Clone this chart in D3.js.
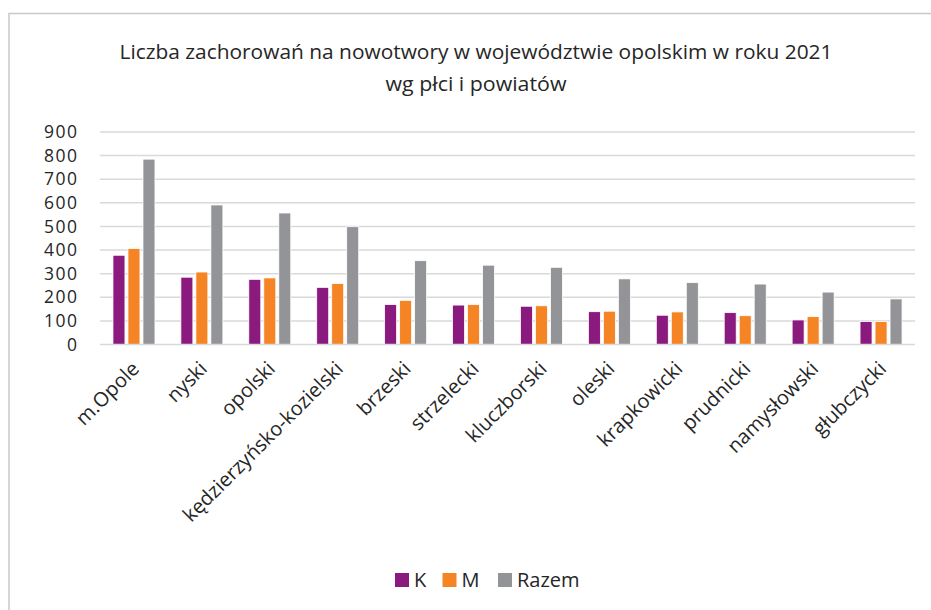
<!DOCTYPE html>
<html>
<head>
    <meta charset="utf-8">
    <title>Zachorowania na nowotwory - opolskie 2021</title>
    <style>
        body {
            margin: 0;
            background-color: white;
        }
        svg text {
            fill: #262626;
        }
    </style>
    <script src="https://d3js.org/d3.v7.min.js"></script>
</head>
<body>
    <script>
        // Data
        var powiaty = ["m.Opole", "nyski", "opolski", "kędzierzyńsko-kozielski", "brzeski", "strzelecki",
                       "kluczborski", "oleski", "krapkowicki", "prudnicki", "namysłowski", "głubczycki"];
        var kobiety = [378, 285, 276, 242, 169, 167, 162, 139, 124, 135, 104, 97];
        var mezczyzni = [407, 307, 282, 258, 187, 169, 164, 141, 138, 122, 118, 97];
        var razem = [785, 591, 557, 499, 355, 336, 327, 278, 262, 256, 222, 193];
        var serie = ["K", "M", "Razem"];
        var yTicks = [0, 100, 200, 300, 400, 500, 600, 700, 800, 900];

        var kolory = { "K": "#8b1a7e", "M": "#f58425", "Razem": "#939497" };

        var width = 931, height = 610;
        var margin = { left: 100, right: 16, top: 132, bottom: 265 };
        var font = "'Open Sans', sans-serif";

        var svg = d3.select("body").append("svg")
            .attr("width", width)
            .attr("height", height);

        // chart border
        svg.append("rect")
            .attr("x", 9)
            .attr("y", 13.5)
            .attr("width", 940)
            .attr("height", 620)
            .attr("fill", "white")
            .attr("stroke", "#c9c9c9")
            .attr("stroke-width", 1.5);

        // Title (narrow font in the original, so squeeze to its width)
        var title = svg.append("text")
            .attr("text-anchor", "middle")
            .style("font-family", font)
            .style("font-size", "19.5px");
        title.append("tspan").attr("x", 476).attr("y", 59)
            .attr("textLength", 713).attr("lengthAdjust", "spacingAndGlyphs")
            .text("Liczba zachorowań na nowotwory w województwie opolskim w roku 2021");
        title.append("tspan").attr("x", 476).attr("y", 91)
            .attr("textLength", 181).attr("lengthAdjust", "spacingAndGlyphs")
            .text("wg płci i powiatów");

        // Scales
        var x0 = d3.scaleBand()
            .domain(powiaty)
            .range([margin.left, width - margin.right]);

        var x1 = d3.scaleBand()
            .domain(serie)
            .range([0, 45])
            .paddingInner(0.2)
            .paddingOuter(0.1);

        var y = d3.scaleLinear()
            .domain([0, 900])
            .range([344.5, 132]);

        // Gridlines
        svg.append("g")
            .selectAll("line")
            .data(yTicks.filter(function(d) { return d > 0; }))
            .join("line")
            .attr("x1", margin.left)
            .attr("x2", width - margin.right)
            .attr("y1", function(d) { return y(d); })
            .attr("y2", function(d) { return y(d); })
            .attr("stroke", "#d9d9d9")
            .attr("stroke-width", 1.5);

        // Y axis labels (wide digits in the original -> a bit of letter spacing)
        var yAxis = d3.axisLeft(y)
            .tickValues(yTicks)
            .tickSize(0)
            .tickPadding(0);

        svg.append("g")
            .attr("transform", "translate(78.5,0)")
            .call(yAxis)
            .call(function(g) { g.select(".domain").remove(); })
            .selectAll("text")
            .style("font-family", font)
            .style("font-size", "17.5px")
            .style("letter-spacing", "1.5px")
            .attr("fill", "#262626");

        // Bars
        var dane = powiaty.map(function(p, i) {
            return { powiat: p, K: kobiety[i], M: mezczyzni[i], Razem: razem[i] };
        });

        var grupy = svg.append("g")
            .selectAll("g")
            .data(dane)
            .join("g")
            .attr("transform", function(d) {
                return "translate(" + (x0(d.powiat) + x0.bandwidth() / 2 - 22.5) + ",0)";
            });

        grupy.selectAll("rect")
            .data(function(d) { return serie.map(function(s) { return { s: s, v: d[s] }; }); })
            .join("rect")
            .attr("x", function(d) { return x1(d.s); })
            .attr("y", function(d) { return y(d.v); })
            .attr("width", x1.bandwidth())
            .attr("height", function(d) { return y(0) - y(d.v); })
            .attr("fill", function(d) { return kolory[d.s]; })
            .attr("stroke", "white")
            .attr("stroke-width", 0.8);

        // X axis baseline
        svg.append("line")
            .attr("x1", margin.left)
            .attr("x2", width - margin.right)
            .attr("y1", y(0))
            .attr("y2", y(0))
            .attr("stroke", "#d9d9d9")
            .attr("stroke-width", 1.5);

        // X axis labels, rotated
        svg.append("g")
            .selectAll("text")
            .data(powiaty)
            .join("text")
            .attr("text-anchor", "end")
            .attr("transform", function(d) {
                return "translate(" + (x0(d) + x0.bandwidth() / 2 + 6.5) + ",370) rotate(-45)";
            })
            .style("font-family", font)
            .style("font-size", "20px")
            .text(function(d) { return d; });

        // Legend
        var legendX = [395, 442.5, 498];
        var legend = svg.append("g")
            .selectAll("g")
            .data(serie)
            .join("g")
            .attr("transform", function(d, i) { return "translate(" + legendX[i] + ",573)"; });

        legend.append("rect")
            .attr("width", 14)
            .attr("height", 14)
            .attr("fill", function(d) { return kolory[d]; });

        legend.append("text")
            .attr("x", 19)
            .attr("y", 14)
            .style("font-family", font)
            .style("font-size", "20px")
            .text(function(d) { return d; });
    </script>
</body>
</html>
